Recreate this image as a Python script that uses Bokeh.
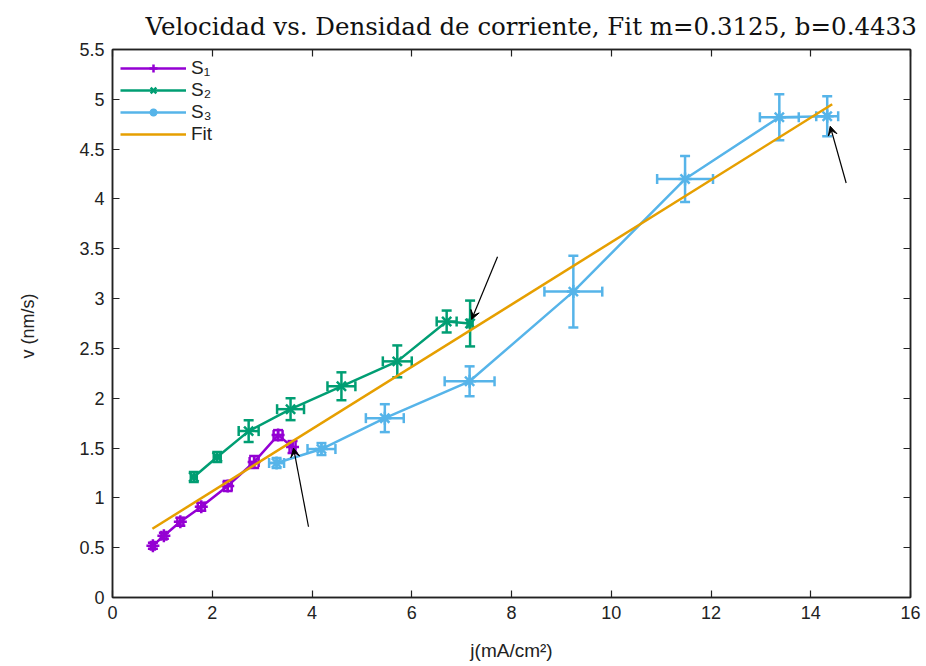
from bokeh.plotting import figure
from bokeh.models import (ColumnDataSource, Whisker, TeeHead, Arrow, VeeHead, LinearAxis,
                          FixedTicker, Legend, LegendItem, Range1d)
from bokeh.embed import file_html
from bokeh.resources import INLINE

# ---- data ----
s1_x = [0.81, 1.03, 1.36, 1.78, 2.31, 2.84, 3.32, 3.61]
s1_y = [0.52, 0.62, 0.76, 0.91, 1.12, 1.36, 1.63, 1.51]
s1_xerr = [0.04, 0.05, 0.06, 0.07, 0.08, 0.09, 0.09, 0.06]
s1_yerr = [0.03, 0.03, 0.04, 0.04, 0.05, 0.06, 0.05, 0.06]

s2_x = [1.63, 2.10, 2.73, 3.57, 4.59, 5.71, 6.70, 7.17]
s2_y = [1.21, 1.41, 1.67, 1.89, 2.12, 2.37, 2.77, 2.75]
s2_xerr = [0.06, 0.07, 0.20, 0.27, 0.28, 0.29, 0.20, 0.05]
s2_yerr = [0.05, 0.05, 0.11, 0.11, 0.14, 0.16, 0.11, 0.23]

s3_x = [3.29, 4.19, 5.46, 7.16, 9.24, 11.48, 13.37, 14.33]
s3_y = [1.35, 1.49, 1.80, 2.17, 3.07, 4.20, 4.82, 4.83]
s3_xerr = [0.15, 0.28, 0.38, 0.50, 0.58, 0.56, 0.39, 0.22]
s3_yerr = [0.05, 0.06, 0.14, 0.15, 0.36, 0.23, 0.23, 0.20]

fit_x = [0.80, 14.43]
fit_y = [0.69, 4.95]

arrow_x0 = [3.93, 7.72, 14.71]
arrow_y0 = [0.71, 3.42, 4.16]
arrow_x1 = [3.63, 7.20, 14.39]
arrow_y1 = [1.50, 2.79, 4.73]

x_ticks = [0, 2, 4, 6, 8, 10, 12, 14, 16]
y_ticks = [0, 0.5, 1, 1.5, 2, 2.5, 3, 3.5, 4, 4.5, 5, 5.5]
y_tick_labels = ["0", "0.5", "1", "1.5", "2", "2.5", "3", "3.5", "4", "4.5", "5", "5.5"]

series_names = ["S\u2081", "S\u2082", "S\u2083"]
colors = ["#9400D3", "#009E73", "#56B4E9"]
fit_color = "#E69F00"

TICK_FONT = "Liberation Sans"

p = figure(frame_width=798, frame_height=548,
           min_border_left=112, min_border_right=16, min_border_top=49, min_border_bottom=69,
           x_range=Range1d(0, 16), y_range=Range1d(0, 5.5),
           output_backend="svg", toolbar_location=None)

p.title.text = "Velocidad vs. Densidad de corriente, Fit m=0.3125, b=0.4433"
p.title.text_font = "DejaVu Serif"
p.title.text_font_size = "24.5px"
p.title.text_font_style = "normal"
p.title.align = "left"
p.title.offset = 33
p.title.standoff = 18
p.title.text_color = "#111111"

p.xgrid.visible = False
p.ygrid.visible = False
p.outline_line_color = "#222222"
p.outline_line_width = 1.5

for ax, ticks in ((p.xaxis[0], x_ticks), (p.yaxis[0], y_ticks)):
    ax.ticker = FixedTicker(ticks=ticks)
    ax.major_tick_in = 7
    ax.major_tick_out = 0
    ax.minor_tick_line_color = None
    ax.axis_line_width = 1.5
    ax.axis_line_color = "#222222"
    ax.major_tick_line_color = "#222222"
    ax.major_tick_line_width = 1.2
    ax.major_label_text_font = TICK_FONT
    ax.major_label_text_font_size = "18px"
    ax.major_label_text_color = "#222222"

p.yaxis[0].major_label_overrides = {t: l for t, l in zip(y_ticks, y_tick_labels)}
p.xaxis[0].major_label_standoff = 8
p.yaxis[0].major_label_standoff = 8

p.xaxis[0].axis_label = "j(mA/cm\u00b2)"
p.xaxis[0].axis_label_text_font = TICK_FONT
p.xaxis[0].axis_label_text_font_style = "normal"
p.xaxis[0].axis_label_text_font_size = "19px"
p.xaxis[0].axis_label_text_color = "#222222"
p.xaxis[0].axis_label_standoff = 18

p.yaxis[0].axis_label = "v  (nm/s)"
p.yaxis[0].axis_label_text_font = TICK_FONT
p.yaxis[0].axis_label_text_font_style = "normal"
p.yaxis[0].axis_label_text_font_size = "18px"
p.yaxis[0].axis_label_text_color = "#222222"
p.yaxis[0].axis_label_standoff = 38

# mirrored ticks on top and right (labels not drawn)
for loc, ticks in (("above", x_ticks), ("right", y_ticks)):
    ax = LinearAxis(ticker=FixedTicker(ticks=ticks), major_label_text_color=None,
                    major_label_text_font_size="1px",
                    major_tick_in=7, major_tick_out=0, minor_tick_line_color=None,
                    axis_line_color="#222222", axis_line_width=1.5,
                    major_tick_line_color="#222222", major_tick_line_width=1.2,
                    major_label_standoff=0)
    p.add_layout(ax, loc)

legend_items = []
markers = ["cross", "x", "asterisk"]
all_data = [(s1_x, s1_y, s1_xerr, s1_yerr), (s2_x, s2_y, s2_xerr, s2_yerr), (s3_x, s3_y, s3_xerr, s3_yerr)]
for (xs, ys, xe, ye), name, col, mk in zip(all_data, series_names, colors, markers):
    src = ColumnDataSource(dict(
        x=xs, y=ys,
        xlo=[a - b for a, b in zip(xs, xe)], xhi=[a + b for a, b in zip(xs, xe)],
        ylo=[a - b for a, b in zip(ys, ye)], yhi=[a + b for a, b in zip(ys, ye)]))
    ln = p.line("x", "y", source=src, line_color=col, line_width=2.5)
    wy = Whisker(source=src, base="x", lower="ylo", upper="yhi", dimension="height",
                 line_color=col, line_width=2.5,
                 lower_head=TeeHead(size=10, line_color=col, line_width=2.5),
                 upper_head=TeeHead(size=10, line_color=col, line_width=2.5))
    wx = Whisker(source=src, base="y", lower="xlo", upper="xhi", dimension="width",
                 line_color=col, line_width=2.5,
                 lower_head=TeeHead(size=10, line_color=col, line_width=2.5),
                 upper_head=TeeHead(size=10, line_color=col, line_width=2.5))
    p.add_layout(wy)
    p.add_layout(wx)
    sc = p.scatter("x", "y", source=src, marker=mk, size=13, line_color=col, line_width=2.5)
    legend_items.append(LegendItem(label=name, renderers=[ln, sc]))

fit_src = ColumnDataSource(dict(x=fit_x, y=fit_y))
fl = p.line("x", "y", source=fit_src, line_color=fit_color, line_width=2.5)
legend_items.append(LegendItem(label="Fit", renderers=[fl]))

arrow_src = ColumnDataSource(dict(x0=arrow_x0, y0=arrow_y0, x1=arrow_x1, y1=arrow_y1))
p.add_layout(Arrow(source=arrow_src, x_start="x0", y_start="y0", x_end="x1", y_end="y1",
                   line_color="black", line_width=1.2,
                   end=VeeHead(size=9, line_color="black", fill_color="black", line_width=1)))

legend = Legend(items=legend_items, location="top_left",
                label_text_font=TICK_FONT, label_text_font_size="19px",
                label_text_color="#222222", glyph_width=66, glyph_height=20,
                label_height=20, spacing=0, padding=2, margin=8,
                background_fill_alpha=0, border_line_color=None)
p.add_layout(legend)

open("out.html", "w").write(file_html(p, INLINE))
